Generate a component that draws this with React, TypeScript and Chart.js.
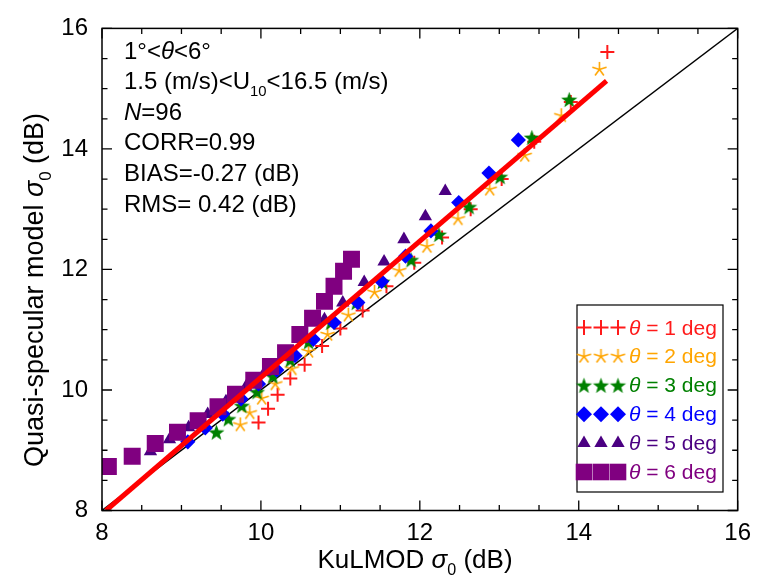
import React, { useEffect, useRef } from "react";
import { Chart, registerables } from "chart.js";

Chart.register(...registerables);

const FONT = '"Liberation Sans", Arial, Helvetica, sans-serif';

// Axis range and ticks
const AXIS_MIN = 8;
const AXIS_MAX = 16;
const MAJOR_STEP = 2;
const MINOR_STEP = 0.5;

// θ = 1 deg (red +)
const theta1X = [9.97, 10.09, 10.21, 10.37, 10.55, 10.77, 11.0, 11.28, 11.58, 11.93, 12.28, 12.64, 13.03, 13.44, 13.9, 14.36];
const theta1Y = [9.46, 9.69, 9.92, 10.19, 10.42, 10.73, 11.02, 11.32, 11.72, 12.11, 12.53, 13.0, 13.5, 14.12, 14.78, 15.61];
// θ = 2 deg (orange *)
const theta2X = [9.74, 9.86, 10.01, 10.18, 10.39, 10.6, 10.84, 11.1, 11.43, 11.74, 12.09, 12.48, 12.88, 13.32, 13.78, 14.26];
const theta2Y = [9.42, 9.62, 9.86, 10.1, 10.35, 10.64, 10.92, 11.24, 11.62, 11.98, 12.38, 12.84, 13.33, 13.89, 14.55, 15.32];
// θ = 3 deg (green star)
const theta3X = [9.44, 9.59, 9.76, 9.95, 10.15, 10.37, 10.6, 10.88, 11.2, 11.53, 11.89, 12.24, 12.62, 13.01, 13.41, 13.88];
const theta3Y = [9.3, 9.52, 9.74, 9.97, 10.23, 10.5, 10.8, 11.12, 11.45, 11.8, 12.16, 12.58, 13.04, 13.54, 14.19, 14.82];
// θ = 4 deg (blue diamond)
const theta4X = [9.08, 9.3, 9.52, 9.75, 9.97, 10.2, 10.43, 10.66, 10.92, 11.22, 11.52, 11.82, 12.14, 12.49, 12.87, 13.24];
const theta4Y = [9.14, 9.37, 9.6, 9.85, 10.1, 10.33, 10.57, 10.84, 11.12, 11.45, 11.8, 12.22, 12.64, 13.11, 13.6, 14.15];
// θ = 5 deg (indigo triangle)
const theta5X = [8.61, 8.85, 9.09, 9.33, 9.56, 9.81, 10.05, 10.3, 10.55, 10.8, 11.03, 11.3, 11.55, 11.8, 12.07, 12.32];
const theta5Y = [8.98, 9.18, 9.38, 9.6, 9.81, 10.05, 10.3, 10.57, 10.86, 11.17, 11.45, 11.79, 12.13, 12.5, 12.88, 13.3];
// θ = 6 deg (purple square)
const theta6X = [8.08, 8.38, 8.67, 8.95, 9.21, 9.46, 9.68, 9.91, 10.12, 10.31, 10.49, 10.65, 10.8, 10.92, 11.04, 11.14];
const theta6Y = [8.73, 8.9, 9.11, 9.3, 9.49, 9.72, 9.93, 10.16, 10.39, 10.62, 10.92, 11.19, 11.47, 11.72, 11.97, 12.17];

// Regression line and 1:1 line
const fitLineX = [8.05, 14.35];
const fitLineY = [8.0, 15.13];
const oneToOneX = [8, 16];
const oneToOneY = [8, 16];

const thetaValues = [1, 2, 3, 4, 5, 6];
const seriesColors = ["#ff1a1a", "#ffa500", "#008000", "#0000ff", "#4b0082", "#800080"];

type Seg = { t: string; it?: boolean; sub?: boolean };
const statsLines: Seg[][] = [
  [{ t: "1°<" }, { t: "θ", it: true }, { t: "<6°" }],
  [{ t: "1.5 (m/s)<U" }, { t: "10", sub: true }, { t: "<16.5 (m/s)" }],
  [{ t: "N", it: true }, { t: "=96" }],
  [{ t: "CORR=0.99" }],
  [{ t: "BIAS=-0.27 (dB)" }],
  [{ t: "RMS= 0.42 (dB)" }],
];
const xTitle: Seg[] = [{ t: "KuLMOD " }, { t: "σ", it: true }, { t: "0", sub: true }, { t: " (dB)" }];
const yTitle: Seg[] = [{ t: "Quasi-specular model " }, { t: "σ", it: true }, { t: "0", sub: true }, { t: " (dB)" }];

function starCanvas(color: string, outer: number, inner: number) {
  const size = Math.ceil(outer * 2 + 2);
  const c = document.createElement("canvas");
  c.width = size;
  c.height = size;
  const g = c.getContext("2d")!;
  g.translate(size / 2, size / 2 + 0.8);
  g.beginPath();
  for (let i = 0; i < 10; i++) {
    const r = i % 2 === 0 ? outer : inner;
    const a = -Math.PI / 2 + (i * Math.PI) / 5;
    g.lineTo(r * Math.cos(a), r * Math.sin(a));
  }
  g.closePath();
  g.fillStyle = color;
  g.fill();
  return c;
}

function asteriskCanvas(color: string, r: number, lw: number) {
  const size = Math.ceil(2 * r + lw + 2);
  const c = document.createElement("canvas");
  c.width = size;
  c.height = size;
  const g = c.getContext("2d")!;
  g.translate(size / 2, size / 2);
  g.strokeStyle = color;
  g.lineWidth = lw;
  g.beginPath();
  for (let k = 0; k < 5; k++) {
    const a = -Math.PI / 2 + (k * 2 * Math.PI) / 5;
    g.moveTo(0, 0);
    g.lineTo(r * Math.cos(a), r * Math.sin(a));
  }
  g.stroke();
  return c;
}

function segFont(size: number, it?: boolean) {
  return `${it ? "italic " : ""}${size}px ${FONT}`;
}

function drawSegs(ctx: CanvasRenderingContext2D, segs: Seg[], x: number, y: number, size: number, color: string, align: "left" | "center") {
  ctx.textBaseline = "alphabetic";
  ctx.textAlign = "left";
  let total = 0;
  const widths = segs.map((s) => {
    ctx.font = segFont(s.sub ? size * 0.62 : size, s.it);
    const w = ctx.measureText(s.t).width;
    total += w;
    return w;
  });
  let cx = align === "center" ? x - total / 2 : x;
  ctx.fillStyle = color;
  segs.forEach((s, i) => {
    ctx.font = segFont(s.sub ? size * 0.62 : size, s.it);
    ctx.fillText(s.t, cx, y + (s.sub ? size * 0.28 : 0));
    cx += widths[i];
  });
}

const pts = (xs: number[], ys: number[]) => xs.map((x, i) => ({ x, y: ys[i] }));

let markerImgs: HTMLCanvasElement[] = [];

function drawLegendMarker(ctx: CanvasRenderingContext2D, i: number, x: number, y: number) {
  const col = seriesColors[i];
  ctx.save();
  ctx.fillStyle = col;
  ctx.strokeStyle = col;
  if (i === 0) {
    ctx.lineWidth = 2;
    ctx.beginPath();
    ctx.moveTo(x - 7.5, y);
    ctx.lineTo(x + 7.5, y);
    ctx.moveTo(x, y - 7.5);
    ctx.lineTo(x, y + 7.5);
    ctx.stroke();
  } else if (i === 1 || i === 2) {
    const img = markerImgs[i];
    ctx.drawImage(img, x - img.width / 2, y - img.height / 2);
  } else if (i === 3) {
    const r = 8;
    ctx.beginPath();
    ctx.moveTo(x, y - r);
    ctx.lineTo(x + r, y);
    ctx.lineTo(x, y + r);
    ctx.lineTo(x - r, y);
    ctx.closePath();
    ctx.fill();
  } else if (i === 4) {
    const r = 7.7;
    ctx.beginPath();
    ctx.moveTo(x, y - r);
    ctx.lineTo(x + r * 0.866, y + r * 0.5);
    ctx.lineTo(x - r * 0.866, y + r * 0.5);
    ctx.closePath();
    ctx.fill();
  } else {
    const s = 8.3;
    ctx.fillRect(x - s, y - s, 2 * s, 2 * s);
  }
  ctx.restore();
}

const framePlugin = {
  id: "frameTicks",
  afterDatasetsDraw(chart: any) {
    const { ctx, chartArea: a, scales } = chart;
    const xs = scales.x;
    const ys = scales.y;
    ctx.save();
    ctx.strokeStyle = "#000";
    ctx.lineWidth = 1.5;
    ctx.strokeRect(a.left, a.top, a.right - a.left, a.bottom - a.top);
    ctx.lineWidth = 1.3;
    ctx.beginPath();
    for (let v = AXIS_MIN; v <= AXIS_MAX + 1e-9; v += MINOR_STEP) {
      const q = v / MAJOR_STEP;
      const major = Math.abs(q - Math.round(q)) < 1e-6;
      const len = major ? 10 : 5.5;
      const px = xs.getPixelForValue(v);
      const py = ys.getPixelForValue(v);
      ctx.moveTo(px, a.bottom);
      ctx.lineTo(px, a.bottom - len);
      ctx.moveTo(px, a.top);
      ctx.lineTo(px, a.top + len);
      ctx.moveTo(a.left, py);
      ctx.lineTo(a.left + len, py);
      ctx.moveTo(a.right, py);
      ctx.lineTo(a.right - len, py);
    }
    ctx.stroke();
    ctx.restore();
  },
  afterDraw(chart: any) {
    const { ctx } = chart;
    ctx.save();
    // statistics block
    statsLines.forEach((line, i) => drawSegs(ctx, line, 124, 58.5 + i * 30.6, 24, "#000", "left"));
    // axis titles
    drawSegs(ctx, xTitle, 415, 568, 26, "#000", "center");
    ctx.save();
    ctx.translate(43, 290);
    ctx.rotate(-Math.PI / 2);
    drawSegs(ctx, yTitle, 0, 0, 27, "#000", "center");
    ctx.restore();
    // legend
    const lx = 577, ly = 305, lw = 146, lh = 187;
    ctx.fillStyle = "#fff";
    ctx.fillRect(lx, ly, lw, lh);
    ctx.strokeStyle = "#000";
    ctx.lineWidth = 1.2;
    ctx.strokeRect(lx, ly, lw, lh);
    const markerX = [584, 601, 618];
    thetaValues.forEach((th, i) => {
      const cy = 327.5 + i * 28.9;
      const col = seriesColors[i];
      markerX.forEach((mx) => drawLegendMarker(ctx, i, mx, cy));
      drawSegs(ctx, [{ t: "θ", it: true }, { t: ` = ${th} deg` }], 629, cy + 7, 21, col, "left");
    });
    ctx.restore();
  },
};

export default function App() {
  const ref = useRef<HTMLCanvasElement>(null);
  useEffect(() => {
    markerImgs = [
      null as any,
      asteriskCanvas(seriesColors[1], 7.5, 1.6),
      starCanvas(seriesColors[2], 8.5, 3.5),
    ];
    const tickFont = { family: FONT, size: 24 };
    const chart = new Chart(ref.current!, {
      type: "scatter",
      data: {
        datasets: [
          { label: "fit", data: pts(fitLineX, fitLineY), showLine: true, borderColor: "#ff0000", borderWidth: 5, pointRadius: 0, clip: 0 } as any,
          { label: "θ = 6 deg", data: pts(theta6X, theta6Y), pointStyle: "rect", pointRadius: 12, backgroundColor: seriesColors[5], borderColor: seriesColors[5], borderWidth: 0 },
          { label: "θ = 5 deg", data: pts(theta5X, theta5Y), pointStyle: "triangle", pointRadius: 7.7, backgroundColor: seriesColors[4], borderColor: seriesColors[4], borderWidth: 0 },
          { label: "θ = 4 deg", data: pts(theta4X, theta4Y), pointStyle: "rectRot", pointRadius: 7.6, backgroundColor: seriesColors[3], borderColor: seriesColors[3], borderWidth: 0 },
          { label: "θ = 3 deg", data: pts(theta3X, theta3Y), pointStyle: markerImgs[2], pointRadius: 8 },
          { label: "θ = 2 deg", data: pts(theta2X, theta2Y), pointStyle: markerImgs[1], pointRadius: 8 },
          { label: "θ = 1 deg", data: pts(theta1X, theta1Y), pointStyle: "cross", pointRadius: 7, borderColor: seriesColors[0], borderWidth: 2 },
          { label: "1:1", data: pts(oneToOneX, oneToOneY), showLine: true, borderColor: "#000", borderWidth: 1.4, pointRadius: 0, clip: 0 } as any,
        ],
      },
      options: {
        responsive: false,
        animation: false,
        events: [],
        layout: { padding: { left: 0, right: 16, top: 14.5, bottom: 0 } },
        plugins: { legend: { display: false }, tooltip: { enabled: false } },
        scales: {
          x: {
            type: "linear",
            min: AXIS_MIN,
            max: AXIS_MAX,
            ticks: { stepSize: MAJOR_STEP, font: tickFont, color: "#000", padding: 8, maxRotation: 0 },
            grid: { display: false, drawTicks: false },
            border: { display: false },
            afterFit: (s: any) => { s.height = 66.5; },
          },
          y: {
            type: "linear",
            min: AXIS_MIN,
            max: AXIS_MAX,
            ticks: { stepSize: MAJOR_STEP, font: tickFont, color: "#000", padding: 14 },
            grid: { display: false, drawTicks: false },
            border: { display: false },
            afterFit: (s: any) => { s.width = 102; },
          },
        },
      },
      plugins: [framePlugin],
    } as any);
    return () => chart.destroy();
  }, []);
  return (
    <div style={{ position: "fixed", left: 0, top: 0, width: 759, height: 577, background: "#fff" }}>
      <canvas ref={ref} width={759} height={577} style={{ display: "block", width: 759, height: 577 }} />
    </div>
  );
}
